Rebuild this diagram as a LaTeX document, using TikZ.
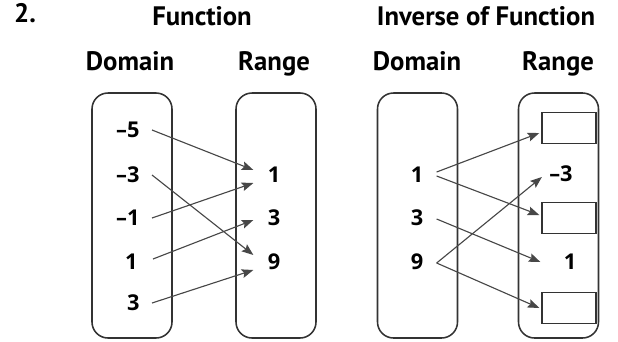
\documentclass[tikz,border=0pt]{standalone}
\usepackage{fontspec}
\setmainfont{PT Sans}
\newfontfamily\numfont{Open Sans}
\usetikzlibrary{arrows.meta}
\usetikzlibrary{calc}
\usetikzlibrary{positioning}

\begin{document}
\begin{tikzpicture}[x=0.25mm,y=-0.25mm,>={Stealth[length=2.9mm,width=2.2mm,inset=0.5mm]},semithick]
 \tikzstyle{set}=[draw=black!80,line width=1.1pt,rounded corners=4mm,minimum width=20mm,minimum height=61.25mm,inner sep=0pt]
 \tikzstyle{head}=[font=\fontsize{19}{21}\selectfont\bfseries,inner sep=0pt,anchor=base]
 \tikzstyle{val}=[font=\numfont\fontsize{15.5}{18}\selectfont\bfseries,inner sep=0pt]
 \tikzstyle{blank}=[draw=black!80,line width=1pt,minimum width=13.5mm,minimum height=7.75mm,inner sep=0pt]
 \tikzstyle{map}=[->,draw=black!72,line width=0.8pt]
 \useasboundingbox (0,0) rectangle (618,341);
 % titles
 \node[head] (num)  at (25,22)  {2.};
 \node[head] (fn)   at (202,25) {Function};
 \node[head] (inv)  at (486,25) {Inverse of Function};
 \node[head] (domA) at (130,70) {Domain};
 \node[head] (rngA) at (274,70) {Range};
 \node[head] (domB) at (417,70) {Domain};
 \node[head] (rngB) at (558,70) {Range};
 % the four sets
 \node[set] (setA) at (132,215.5) {};
 \node[set] (setB) at (276,215.5) {};
 \node[set] (setC) at (417.5,215.5) {};
 \node[set] (setD) at (558.5,215.5) {};
 % function
 \node[val,anchor=east] (m5) at (140,130) {–5};
 \node[val,anchor=east] (m3) at (140,175) {–3};
 \node[val,anchor=east] (m1) at (140,218) {–1};
 \node[val,anchor=east] (p1) at (138,262) {1};
 \node[val,anchor=east] (p3) at (140,303) {3};
 \node[val] (r1) at (274,175) {1};
 \node[val] (r3) at (274,218) {3};
 \node[val] (r9) at (274,262) {9};
 % inverse
 \node[val] (d1) at (417,175) {1};
 \node[val] (d3) at (417,218) {3};
 \node[val] (d9) at (417,262) {9};
 \node[blank] (b1) at (569,128) {};
 \node[val]   (n3) at (561,174) {–3};
 \node[blank] (b2) at (569,218) {};
 \node[val]   (n1) at (570,262) {1};
 \node[blank] (b3) at (569,308) {};
 \draw[map] ($(m5.east)+(12,0)$) -- ($(r1.west)+(-14,-5)$);
 \draw[map] ($(m3.east)+(12,0)$) -- ($(r9.west)+(-14,-7)$);
 \draw[map] ($(m1.east)+(12,0)$) -- ($(r1.west)+(-14,8)$);
 \draw[map] ($(p1.east)+(15,-3)$) -- ($(r3.west)+(-14,2)$);
 \draw[map] ($(p3.east)+(12,0)$) -- ($(r9.west)+(-14,8)$);
 \draw[map] ($(d1.east)+(13,-3)$) -- ($(b1.west)+(-2,5)$);
 \draw[map] ($(d1.east)+(13,1)$) -- ($(b2.west)+(-2,-3)$);
 \draw[map] ($(d3.east)+(13,1)$) -- ($(n1.west)+(-23,0)$);
 \draw[map] ($(d9.east)+(13,1)$) -- ($(n3.west)+(-7,3)$);
 \draw[map] ($(d9.east)+(13,1)$) -- ($(b3.west)+(-2,0)$);
\end{tikzpicture}
\end{document}
